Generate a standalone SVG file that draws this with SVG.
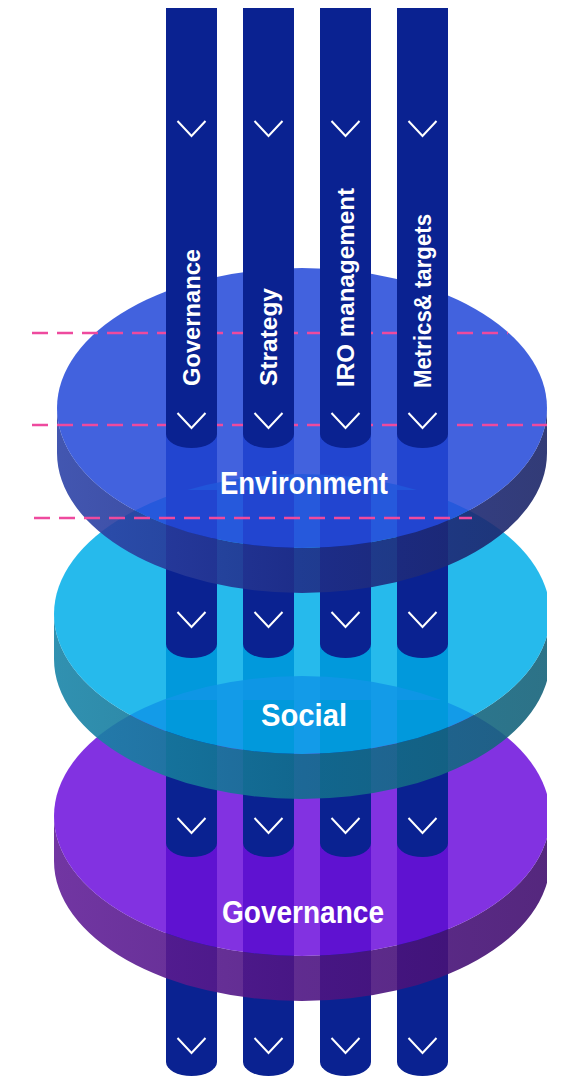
<svg xmlns="http://www.w3.org/2000/svg" width="561" height="1081" viewBox="0 0 561 1081">
<style>
.col{fill:#0A2291}
.chev{fill:none;stroke:#ffffff;stroke-width:2}
.dash{stroke:#EE4A9E;stroke-width:2.5;stroke-dasharray:16 9;fill:none}
.vlab{font-family:"Liberation Sans",Arial,sans-serif;font-weight:bold;font-size:24px;fill:#ffffff}
.dlab{font-family:"Liberation Sans",Arial,sans-serif;font-weight:bold;font-size:31px;fill:#ffffff;text-anchor:middle}
</style>
<defs>
<clipPath id="clip"><rect x="0" y="0" width="547" height="1081"/></clipPath>
<linearGradient id="gEnv" x1="0" y1="0" x2="1" y2="0">
<stop offset="0" stop-color="#2E44A8"/><stop offset="0.5" stop-color="#1F2E88"/><stop offset="1" stop-color="#1C2668"/>
</linearGradient>
<linearGradient id="gSoc" x1="0" y1="0" x2="1" y2="0">
<stop offset="0" stop-color="#1A85A8"/><stop offset="0.5" stop-color="#126E8E"/><stop offset="1" stop-color="#16637A"/>
</linearGradient>
<linearGradient id="gGov" x1="0" y1="0" x2="1" y2="0">
<stop offset="0" stop-color="#622098"/><stop offset="0.5" stop-color="#4E1583"/><stop offset="1" stop-color="#42106F"/>
</linearGradient>
</defs>

<g id="columns-back">
<path class="col" d="M166 8H217V1062A25.5 14 0 0 1 166 1062Z"/>
<path class="col" d="M243 8H294V1062A25.5 14 0 0 1 243 1062Z"/>
<path class="col" d="M320 8H371V1062A25.5 14 0 0 1 320 1062Z"/>
<path class="col" d="M397 8H448V1062A25.5 14 0 0 1 397 1062Z"/>
<polyline class="chev" points="177.5,1038 191.5,1053 205.5,1038"/>
<polyline class="chev" points="254.5,1038 268.5,1053 282.5,1038"/>
<polyline class="chev" points="331.5,1038 345.5,1053 359.5,1038"/>
<polyline class="chev" points="408.5,1038 422.5,1053 436.5,1038"/>
</g>

<g id="disk-governance" clip-path="url(#clip)">
<path d="M54 816A248 140 0 0 0 550 816V861A248 140 0 0 1 54 861Z" fill="url(#gGov)" fill-opacity="0.9"/>
<ellipse cx="302" cy="816" rx="248" ry="140" fill="#6D10DC" fill-opacity="0.86"/>
</g>

<g id="columns-governance">
<path class="col" d="M166 700H217V843A25.5 14 0 0 1 166 843Z"/>
<path class="col" d="M243 700H294V843A25.5 14 0 0 1 243 843Z"/>
<path class="col" d="M320 700H371V843A25.5 14 0 0 1 320 843Z"/>
<path class="col" d="M397 700H448V843A25.5 14 0 0 1 397 843Z"/>
<polyline class="chev" points="177.5,818 191.5,833 205.5,818"/>
<polyline class="chev" points="254.5,818 268.5,833 282.5,818"/>
<polyline class="chev" points="331.5,818 345.5,833 359.5,818"/>
<polyline class="chev" points="408.5,818 422.5,833 436.5,818"/>
</g>

<g id="disk-social" clip-path="url(#clip)">
<path d="M54 614A248 140 0 0 0 550 614V659A248 140 0 0 1 54 659Z" fill="url(#gSoc)" fill-opacity="0.9"/>
<ellipse cx="302" cy="614" rx="248" ry="140" fill="#00AEE9" fill-opacity="0.85"/>
</g>

<g id="columns-social">
<path class="col" d="M166 490H217V644A25.5 14 0 0 1 166 644Z"/>
<path class="col" d="M243 490H294V644A25.5 14 0 0 1 243 644Z"/>
<path class="col" d="M320 490H371V644A25.5 14 0 0 1 320 644Z"/>
<path class="col" d="M397 490H448V644A25.5 14 0 0 1 397 644Z"/>
<polyline class="chev" points="177.5,612 191.5,627 205.5,612"/>
<polyline class="chev" points="254.5,612 268.5,627 282.5,612"/>
<polyline class="chev" points="331.5,612 345.5,627 359.5,612"/>
<polyline class="chev" points="408.5,612 422.5,627 436.5,612"/>
</g>

<g id="disk-environment" clip-path="url(#clip)">
<path d="M57 408A245 140 0 0 0 547 408V453A245 140 0 0 1 57 453Z" fill="url(#gEnv)" fill-opacity="0.9"/>
<ellipse cx="302" cy="408" rx="245" ry="140" fill="#264BD9" fill-opacity="0.87"/>
</g>

<g id="guides-upper">
<line class="dash" x1="32" y1="333" x2="508" y2="333"/>
<line class="dash" x1="32" y1="425" x2="547" y2="425"/>
</g>

<g id="columns-top">
<g id="col-governance">
<path class="col" d="M166 8H217V434A25.5 14 0 0 1 166 434Z"/>
<polyline class="chev" points="177.5,121 191.5,136 205.5,121"/>
<polyline class="chev" points="177.5,413 191.5,428 205.5,413"/>
<text class="vlab" transform="translate(199.5,386) rotate(-90)" textLength="137" lengthAdjust="spacingAndGlyphs">Governance</text>
</g>
<g id="col-strategy">
<path class="col" d="M243 8H294V434A25.5 14 0 0 1 243 434Z"/>
<polyline class="chev" points="254.5,121 268.5,136 282.5,121"/>
<polyline class="chev" points="254.5,413 268.5,428 282.5,413"/>
<text class="vlab" transform="translate(276.5,386) rotate(-90)" textLength="98" lengthAdjust="spacingAndGlyphs">Strategy</text>
</g>
<g id="col-iro">
<path class="col" d="M320 8H371V434A25.5 14 0 0 1 320 434Z"/>
<polyline class="chev" points="331.5,121 345.5,136 359.5,121"/>
<polyline class="chev" points="331.5,413 345.5,428 359.5,413"/>
<text class="vlab" transform="translate(353.5,387) rotate(-90)" textLength="199" lengthAdjust="spacingAndGlyphs">IRO management</text>
</g>
<g id="col-metrics">
<path class="col" d="M397 8H448V434A25.5 14 0 0 1 397 434Z"/>
<polyline class="chev" points="408.5,121 422.5,136 436.5,121"/>
<polyline class="chev" points="408.5,413 422.5,428 436.5,413"/>
<text class="vlab" transform="translate(430.5,388) rotate(-90)" textLength="174" lengthAdjust="spacingAndGlyphs">Metrics&amp; targets</text>
</g>
</g>

<g id="guides-lower">
<line class="dash" x1="34" y1="518" x2="472" y2="518"/>
</g>

<g id="labels">
<text id="label-environment" class="dlab" x="304" y="494" textLength="168" lengthAdjust="spacingAndGlyphs">Environment</text>
<text id="label-social" class="dlab" x="304" y="726" textLength="86" lengthAdjust="spacingAndGlyphs">Social</text>
<text id="label-governance" class="dlab" x="303" y="923" textLength="162" lengthAdjust="spacingAndGlyphs">Governance</text>
</g>
</svg>
